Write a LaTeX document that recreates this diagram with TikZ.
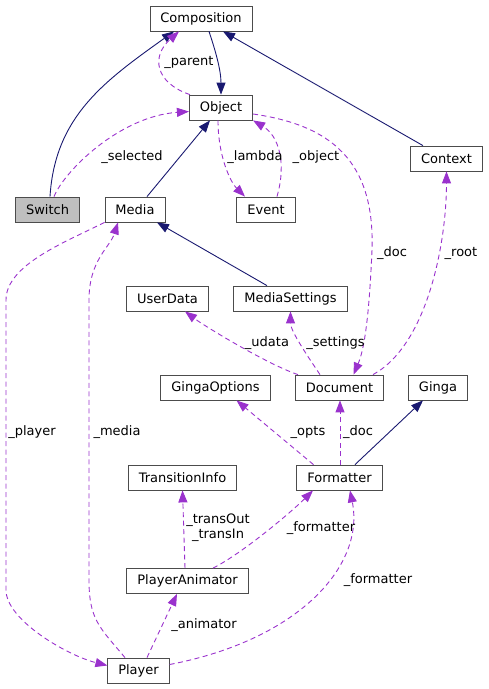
\documentclass[tikz,border=0pt]{standalone}
\usepackage{fontspec}
\setmainfont{DejaVu Sans}
\usetikzlibrary{arrows.meta}
\definecolor{edgenavy}{RGB}{25,25,112}
\definecolor{edgepurple}{RGB}{154,50,205}
\tikzstyle{cls}=[draw=black!70,line width=0.8pt,fill=white,minimum height=25pt,inner xsep=10.5pt,inner ysep=0pt,font=\fontsize{13}{15}\selectfont]
\tikzstyle{inh}=[draw=edgenavy,line width=0.9pt,-{Triangle[length=12pt,width=9pt]}]
\tikzstyle{usg}=[draw=edgepurple,line width=0.9pt,dash pattern=on 5pt off 3.5pt,-{Triangle[length=12pt,width=9pt]}]
\tikzstyle{lbl}=[inner sep=0pt,text height=9.5pt,text depth=3pt,align=center,font=\fontsize{13}{15}\selectfont]

\begin{document}
\begin{tikzpicture}[x=1pt,y=-1pt]
  \useasboundingbox (0,0) rectangle (489,689);
  % classes
  \node [cls] (comp) at (201,18.5) {Composition};
  \node [cls,node distance=89pt,below of=comp,xshift=20pt] (obj) {Object};
  \node [cls,node distance=102pt,below of=obj,xshift=-86pt] (media) {Media};
  \node [cls,fill=black!25,node distance=87.5pt,left of=media] (switch) {Switch};
  \node [cls,node distance=131pt,right of=media] (event) {Event};
  \node [cls,node distance=225.5pt,right of=obj,yshift=-51pt] (context) {Context};
  \node [cls,node distance=89pt,below of=media,xshift=155.5pt] (msettings) {MediaSettings};
  \node [cls,node distance=123pt,left of=msettings] (udata) {UserData};
  \node [cls,node distance=89pt,below of=msettings,xshift=49pt] (doc) {Document};
  \node [cls,node distance=124pt,left of=doc] (gopts) {GingaOptions};
  \node [cls,node distance=98.5pt,right of=doc] (ginga) {Ginga};
  \node [cls,node distance=90pt,below of=doc] (fmt) {Formatter};
  \node [cls,node distance=157pt,left of=fmt] (tinfo) {TransitionInfo};
  \node [cls,node distance=103.5pt,below of=tinfo,xshift=5pt] (panim) {PlayerAnimator};
  \node [cls,node distance=89.5pt,below of=panim,xshift=-49pt] (player) {Player};

  % inheritance
  \draw [inh] ([xshift=8pt]comp.south) .. controls +(6,18) and +(0,-25) .. (obj.north);
  \draw [inh] ([xshift=2.5pt]switch.north) .. controls +(5,-80) and +(-70,50) .. ([xshift=-27pt]comp.south);
  \draw [inh] ([xshift=-23.5pt]context.north) -- ([xshift=22pt]comp.south);
  \draw [inh] ([xshift=12pt]media.north) -- ([xshift=-11pt]obj.south);
  \draw [inh] ([xshift=-23.5pt]msettings.north) -- ([xshift=22pt]media.south);
  \draw [inh] ([xshift=15.5pt]fmt.north) -- ([xshift=-15pt]ginga.south);

  % members
  \draw [usg] ([xshift=1pt]obj.north west) .. controls +(-35,-12) and +(-28,25) .. ([xshift=-22pt]comp.south);
  \draw [usg] ([xshift=6.5pt]switch.north) .. controls +(10,-25) and +(-70,5) .. ([yshift=-4pt]obj.west);
  \draw [usg] ([xshift=-3pt]obj.south) .. controls +(0,35) and +(-15,-15) .. ([xshift=-21pt]event.north);
  \draw [usg] ([xshift=11pt]event.north) .. controls +(10,-35) and +(25,15) .. (obj.south east);
  \draw [usg] ([yshift=-6.5pt]obj.east) .. controls (330,125) and (375,160) .. (372,250)
    .. controls (369,320) and (364,350) .. ([xshift=14pt]doc.north);
  \draw [usg] ([xshift=33.5pt]doc.north) .. controls +(55,-30) and +(0,70) .. (context.south);
  \draw [usg] ([xshift=-41.5pt]doc.north) .. controls +(-30,-10) and +(20,15) .. ([xshift=17.5pt]udata.south);
  \draw [usg] ([xshift=-19.5pt]doc.north) .. controls +(-10,-15) and +(0,20) .. (msettings.south);
  \draw [usg] ([xshift=-13.5pt]player.north) .. controls +(-25,-30) and +(0,40) .. (89,580) -- (89,300)
    .. controls +(0,-40) and +(-8,25) .. ([xshift=-17pt]media.south);
  \draw [usg] (media.south west) .. controls +(-40,20) and +(0,-35) .. (6,300) -- (6,590)
    .. controls +(0,30) and +(-40,-10) .. ([yshift=5pt]player.west);
  \draw [usg] ([xshift=-26pt]fmt.north) -- ([xshift=21pt]gopts.south);
  \draw [usg] ([xshift=0.5pt]fmt.north) -- ([xshift=0.5pt]doc.south);
  \draw [usg] ([xshift=-2.5pt]panim.north) -- (tinfo.south);
  \draw [usg] ([xshift=25.5pt]panim.north) .. controls +(30,-15) and +(-20,20) .. ([xshift=-26.5pt]fmt.south);
  \draw [usg] ([xshift=8.5pt]player.north) -- ([xshift=-10.5pt]panim.south);
  \draw [usg] ([yshift=6pt]player.east) .. controls +(130,-25) and +(15,75) .. ([xshift=10.5pt]fmt.south);

  % member labels
  \node [lbl] (lparent) at (189,62) {\_parent};
  \node [lbl] (lselected) at (132,157) {\_selected};
  \node [lbl] (llambda) at (255,157) {\_lambda};
  \node [lbl] (lobject) at (316,157) {\_object};
  \node [lbl] (ldoca) at (392,253) {\_doc};
  \node [lbl] (lroot) at (461,253) {\_root};
  \node [lbl] (ludata) at (267,343) {\_udata};
  \node [lbl] (lsettings) at (335.5,343) {\_settings};
  \node [lbl] (lplayer) at (32,432) {\_player};
  \node [lbl] (lmedia) at (117,432) {\_media};
  \node [lbl] (lopts) at (308,432) {\_opts};
  \node [lbl] (ldocb) at (358,432) {\_doc};
  \node [lbl,text height=,text depth=] (ltrans) at (218,528) {\_transOut\\\_transIn};
  \node [lbl] (lfmta) at (321,528) {\_formatter};
  \node [lbl] (lfmtb) at (378,580) {\_formatter};
  \node [lbl] (lanim) at (204,625) {\_animator};
\end{tikzpicture}
\end{document}
